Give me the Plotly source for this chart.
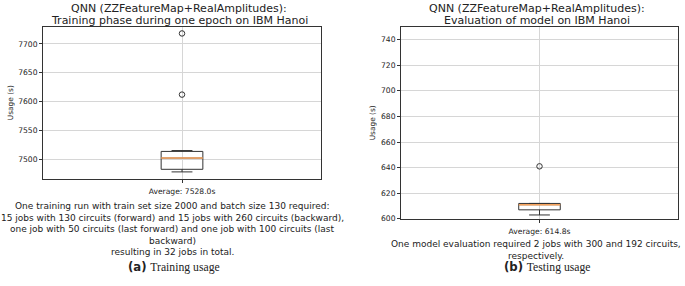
import numpy as np
import plotly.graph_objects as go

# ---------------- data ----------------
train_usage = [7478, 7482, 7482, 7483, 7500, 7502, 7511, 7512, 7515, 7612, 7718]
test_usage = [603, 607, 611, 612, 641]
train_tick = ["Average: 7528.0s"]
test_tick = ["Average: 614.8s"]
train_title = ["QNN (ZZFeatureMap+RealAmplitudes):",
               "Training phase during one epoch on IBM Hanoi"]
test_title = ["QNN (ZZFeatureMap+RealAmplitudes):",
              "Evaluation of model on IBM Hanoi"]
train_caption = [
    "One training run with train set size 2000 and batch size 130 required:",
    "15 jobs with 130 circuits (forward) and 15 jobs with 260 circuits (backward),",
    "one job with 50 circuits (last forward) and one job with 100 circuits (last",
    "backward)",
    "resulting in 32 jobs in total.",
]
test_caption = [
    "One model evaluation required 2 jobs with 300 and 192 circuits,",
    "respectively.",
]
sub_labels = [("(a)", "Training usage"), ("(b)", "Testing usage")]
y_label = "Usage (s)"

# ---------------- geometry ----------------
W, H = 685, 286
FONT = "DejaVu Sans"
def px(x):
    return x / W
def py(y):
    return 1 - y / H

BOX_W = 0.15
ORANGE = "#f7a35c"
DARK = "#333333"
GRID = "#d6d6d6"

fig = go.Figure()

for data, xa, ya in [(train_usage, "x", "y"), (test_usage, "x2", "y2")]:
    fig.add_trace(go.Box(
        y=data, x=[0] * len(data), xaxis=xa, yaxis=ya,
        width=BOX_W, whiskerwidth=0.5, quartilemethod="inclusive",
        boxpoints="outliers", pointpos=0, jitter=0,
        line=dict(color=DARK, width=1),
        fillcolor="rgba(0,0,0,0)",
        marker=dict(symbol="circle-open", color=DARK, size=5.5,
                    line=dict(width=1, color=DARK)),
        showlegend=False, hoverinfo="y",
    ))
    med = float(np.median(data))
    fig.add_trace(go.Scatter(
        x=[-BOX_W / 2, BOX_W / 2], y=[med, med], xaxis=xa, yaxis=ya,
        mode="lines", line=dict(color=ORANGE, width=1.6),
        showlegend=False, hoverinfo="skip",
    ))

axis_common = dict(showgrid=True, gridcolor=GRID, gridwidth=1,
                   showline=True, linecolor=DARK, linewidth=1, mirror=True,
                   ticks="outside", ticklen=3, tickcolor=DARK,
                   tickfont=dict(family=FONT, size=7.6, color="#222"),
                   zeroline=False)

fig.update_layout(
    width=W, height=H,
    margin=dict(l=0, r=0, t=0, b=0),
    paper_bgcolor="white", plot_bgcolor="white",
    font=dict(family=FONT, color="#222"),
    xaxis=dict(domain=[px(43), px(321)], range=[-0.5, 0.5], ticklabelstandoff=2,
               tickvals=[0], ticktext=train_tick, anchor="y", **axis_common),
    yaxis=dict(domain=[py(182), py(27)], range=[7466, 7730], dtick=50,
               anchor="x", **axis_common),
    xaxis2=dict(domain=[px(401), px(678)], range=[-0.5, 0.5], ticklabelstandoff=2,
                tickvals=[0], ticktext=test_tick, anchor="y2", **axis_common),
    yaxis2=dict(domain=[py(222.7), py(27.3)], range=[600, 750], dtick=20,
                anchor="x2", **axis_common),
)

ann = []
def text(x, y, s, size, rot=0, **kw):
    ann.append(dict(x=px(x), y=py(y), xref="paper", yref="paper", text=s,
                    showarrow=False, xanchor="center", yanchor="middle",
                    textangle=rot, font=dict(family=FONT, size=size, color="#222"),
                    **kw))

# titles
for i, line in enumerate(train_title):
    text(179, 8.5 + 12.3 * i, line, 11)
for i, line in enumerate(test_title):
    text(537, 8.5 + 12.3 * i, line, 11)

# y labels
text(10.5, 104.5, y_label, 7.4, rot=-90)
text(372.5, 125, y_label, 7.4, rot=-90)

# captions
for i, line in enumerate(train_caption):
    text(172, 210 + 11.7 * i, line, 9)
for i, line in enumerate(test_caption):
    text(536, 248.5 + 11.8 * i, line, 9)

# sub-figure labels
for (lab, name), cx in zip(sub_labels, [174, 547]):
    s = ("<b>" + lab + "</b> <span style='font-family:Liberation Serif'>"
         + name + "</span>")
    text(cx, 272, s, 11.7)

fig.update_layout(annotations=ann)
fig.write_html("out.html", config={"displayModeBar": False},
               post_script="document.body.style.margin='0px';")
